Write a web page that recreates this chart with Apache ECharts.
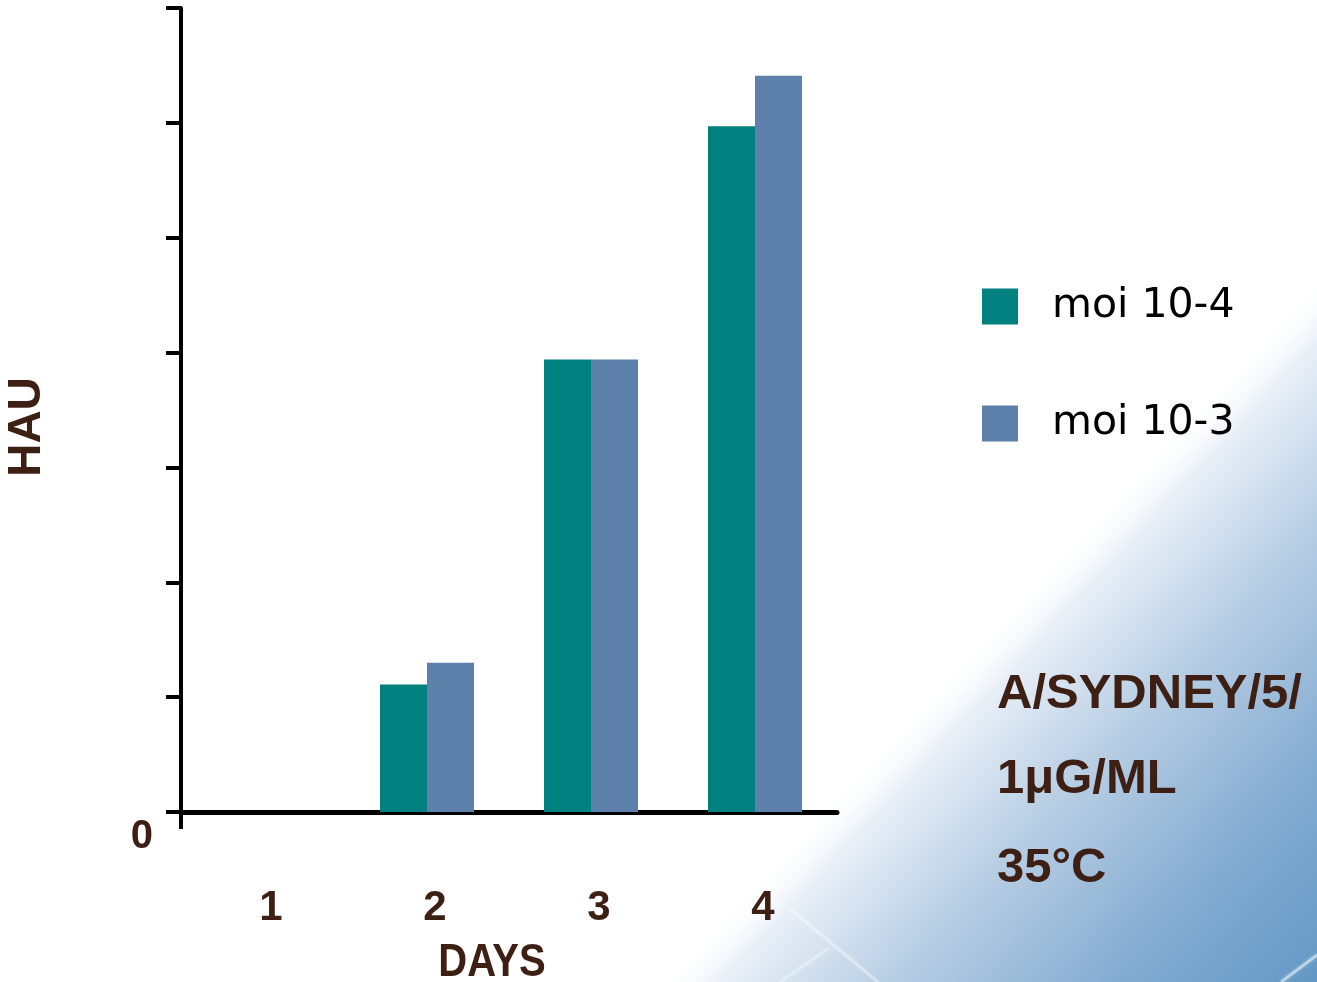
<!DOCTYPE html>
<html>
<head>
<meta charset="utf-8">
<script src="https://cdn.jsdelivr.net/npm/echarts@6/dist/echarts.min.js"></script>
<style>
  html, body { margin: 0; padding: 0; background: #ffffff; overflow: hidden; }
  #chart { width: 1317px; height: 982px; }
</style>
</head>
<body>
<div id="chart"></div>
<script>
// Haemagglutination titre by day for two multiplicities of infection
const days = ['1', '2', '3', '4'];
const moi4 = [0, 1.11, 3.94, 5.97];
const moi3 = [0, 1.3, 3.94, 6.41];
const seriesNames = ['moi 10-4', 'moi 10-3'];
const yTicks = [0, 1, 2, 3, 4, 5, 6, 7];
const notes = ['A/SYDNEY/5/', '1\u03bcG/ML', '35\u00b0C'];

const brown = '#3d1f14';
const sans = '"Liberation Sans", Arial, sans-serif';
const chart = echarts.init(document.getElementById('chart'), null, { renderer: 'canvas' });

const noteTops = [670, 755, 844];
const noteTexts = notes.map((t, i) => ({
  type: 'text',
  x: 997,
  y: noteTops[i],
  z: 10,
  silent: true,
  style: {
    text: t,
    fill: brown,
    font: 'bold 49px ' + sans,
    textVerticalAlign: 'top'
  }
}));

// thin light streaks over the blue backdrop
function streak(x1, y1, x2, y2, alpha) {
  return {
    type: 'line',
    z: -9,
    silent: true,
    shape: { x1, y1, x2, y2 },
    style: {
      stroke: 'rgba(255,255,255,' + alpha + ')',
      lineWidth: 3,
      shadowBlur: 4,
      shadowColor: 'rgba(255,255,255,0.5)'
    }
  };
}

chart.setOption({
  animation: false,
  backgroundColor: '#ffffff',
  grid: { left: 181, width: 656, top: 8, height: 804, containLabel: false },
  legend: {
    orient: 'vertical',
    left: 982,
    top: 286,
    padding: 0,
    itemWidth: 36,
    itemHeight: 36,
    itemGap: 76,
    icon: 'rect',
    textStyle: {
      fontSize: 41,
      color: '#000000',
      fontFamily: '"DejaVu Sans", sans-serif',
      padding: [0, 0, 0, 29]
    },
    data: seriesNames
  },
  xAxis: {
    type: 'category',
    data: days,
    boundaryGap: true,
    axisLine: { show: true, lineStyle: { color: '#000000', width: 5 } },
    axisTick: { show: false },
    axisLabel: {
      margin: 75,
      fontSize: 42,
      fontWeight: 'bold',
      color: brown,
      fontFamily: sans,
      padding: [0, 0, 0, 16]
    },
    splitLine: { show: false }
  },
  yAxis: {
    type: 'value',
    min: yTicks[0],
    max: yTicks[yTicks.length - 1],
    interval: 1,
    name: 'HAU',
    nameLocation: 'middle',
    nameRotate: 90,
    nameGap: 131,
    nameTextStyle: {
      fontSize: 46,
      fontWeight: 'bold',
      color: brown,
      fontFamily: sans,
      padding: [0, 34, 0, 0]
    },
    axisLine: { show: true, lineStyle: { color: '#000000', width: 4 } },
    axisTick: { show: true, length: 15, lineStyle: { color: '#000000', width: 4 } },
    axisLabel: {
      margin: 28,
      fontSize: 40,
      fontWeight: 'bold',
      color: brown,
      verticalAlign: 'top',
      lineHeight: 50,
      fontFamily: sans,
      formatter: v => (v === 0 ? '0' : '')
    },
    splitLine: { show: false }
  },
  graphic: [
    {
      type: 'rect',
      z: -10,
      silent: true,
      shape: { x: 0, y: 0, width: 1317, height: 982 },
      style: {
        fill: new echarts.graphic.LinearGradient(842, 783, 1195, 1112, [
          { offset: 0, color: 'rgba(255,255,255,0)' },
          { offset: 0.1, color: 'rgba(232,239,247,1)' },
          { offset: 0.35, color: '#b8cee4' },
          { offset: 0.7, color: '#83abd1' },
          { offset: 1, color: '#6398c4' }
        ], true)
      }
    },
    streak(788, 907, 878, 982, 0.35),
    streak(829, 948, 780, 982, 0.3),
    streak(1317, 955, 1281, 982, 0.5),
    {
      // stub of the value axis continuing below the baseline
      type: 'line',
      z: 5,
      silent: true,
      shape: { x1: 181, y1: 812, x2: 181, y2: 829 },
      style: { stroke: '#000000', lineWidth: 4 }
    },
    {
      // category axis title
      type: 'text',
      x: 492,
      y: 940,
      scaleX: 0.87,
      originX: 0,
      originY: 0,
      z: 10,
      silent: true,
      style: {
        text: 'DAYS',
        fill: brown,
        font: 'bold 46px ' + sans,
        textAlign: 'center',
        textVerticalAlign: 'top'
      }
    },
    ...noteTexts
  ],
  series: [
    {
      name: seriesNames[0],
      type: 'bar',
      data: moi4,
      barWidth: 47,
      barGap: '0%',
      itemStyle: { color: '#018080' }
    },
    {
      name: seriesNames[1],
      type: 'bar',
      data: moi3,
      barWidth: 47,
      barGap: '0%',
      itemStyle: { color: '#5d81aa' }
    }
  ]
});
</script>
</body>
</html>
